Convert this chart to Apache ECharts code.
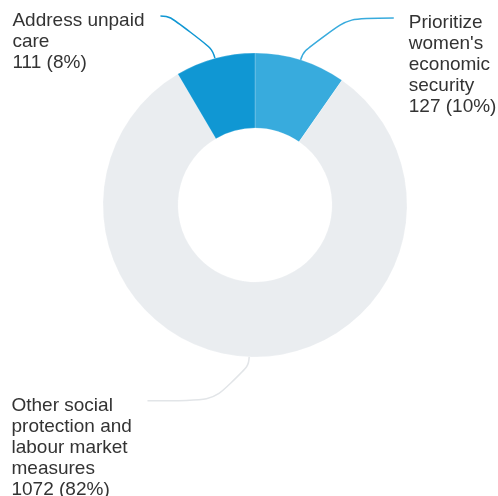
<!DOCTYPE html>
<html>
<head>
<meta charset="utf-8">
<script src="https://cdn.jsdelivr.net/npm/echarts@6/dist/echarts.min.js"></script>
<style>
html,body{margin:0;padding:0;background:#fff;}
#chart{width:498px;height:496px;}
</style>
</head>
<body>
<div id="chart"></div>
<script>
var categories = ["Prioritize women's economic security", "Other social protection and labour market measures", "Address unpaid care"];
var values = [127, 1072, 111];
var colors = ['#38abdd', '#eaedf0', '#1097d3'];
var lineColors = ['#38abdd', '#e2e5e8', '#1097d3'];
// per-slice label box width and connector tail length
var labelWidths = [90, 128, 140];
var tailLengths = [80, 100, 43];
var labelGaps = [15, 8, 8];

var chart = echarts.init(document.getElementById('chart'), null, {renderer: 'canvas'});
var data = categories.map(function (c, i) {
  return {
    name: c,
    value: values[i],
    itemStyle: {color: colors[i]},
    label: {width: labelWidths[i], distanceToLabelLine: labelGaps[i]},
    labelLine: {length2: tailLengths[i], lineStyle: {color: lineColors[i]}}
  };
});
chart.setOption({
  animation: false,
  series: [{
    type: 'pie',
    center: [255, 205],
    radius: [77, 152],
    startAngle: 90,
    clockwise: true,
    avoidLabelOverlap: false,
    emphasis: {disabled: true},
    itemStyle: {borderColor: 'rgba(255,255,255,0.35)', borderWidth: 0.6},
    label: {
      show: true,
      position: 'outside',
      alignTo: 'none',
      bleedMargin: 0,
      overflow: 'break',
      padding: [-6, 0, 0, 0],
      formatter: function (p) {
        return '{t|' + p.name + '\n' + p.value + ' (' + Math.round(p.percent) + '%)}';
      },
      rich: {
        t: {fontFamily: 'Liberation Sans, Arial, sans-serif', fontSize: 19, lineHeight: 21, color: '#333333', align: 'left'}
      }
    },
    labelLine: {show: true, length: 44, smooth: 0.8, lineStyle: {width: 1.5}},
    labelLayout: function () { return {verticalAlign: 'top'}; },
    data: data
  }]
});
</script>
</body>
</html>
